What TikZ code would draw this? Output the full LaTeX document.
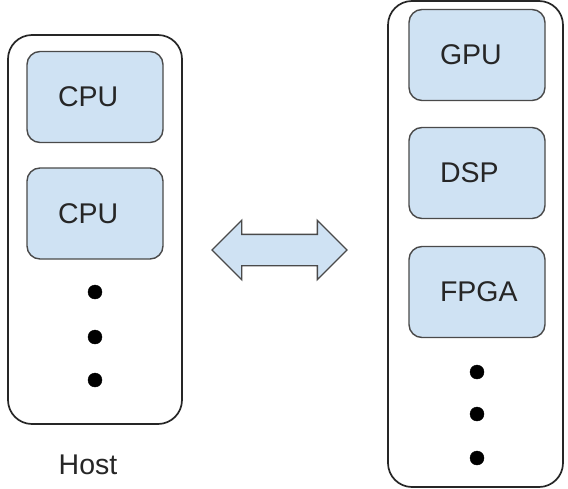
\documentclass[tikz,border=0pt]{standalone}
\usepackage{fontspec}
\setmainfont{Liberation Sans}
\usetikzlibrary{shapes.arrows}
\definecolor{boxblue}{HTML}{CFE2F3}
\definecolor{edgegray}{HTML}{4A4A4A}
\definecolor{inkgray}{HTML}{262626}
\begin{document}
\begin{tikzpicture}[x=1pt,y=-1pt,
  panel/.style={draw=black!85,line width=1.7pt,rounded corners=24pt,minimum width=174pt,inner sep=0},
  unit/.style={draw=edgegray,line width=1.4pt,fill=boxblue,rounded corners=13pt,minimum width=136pt,minimum height=91pt,inner sep=0,text width=74pt,align=left,text=inkgray,font=\fontsize{28.5}{33}\selectfont}]
\useasboundingbox (0,0) rectangle (568,488);
\node[panel,minimum height=389pt] (host) at (95,229.5) {};
\node[panel,minimum width=175pt,minimum height=486pt] (device) at (475.5,244) {};
\node[unit] (cpuA) at (95,97) {CPU};
\node[unit] (cpuB) at (95,213.5) {CPU};
\node[unit] (gpu) at (477,55) {GPU};
\node[unit] (dsp) at (477,173) {DSP};
\node[unit] (fpga) at (477,292) {FPGA};
\node[double arrow,draw=edgegray,fill=boxblue,line width=1.4pt,inner sep=0,inner ysep=15pt,minimum height=135pt,double arrow head extend=14pt] (link) at (279.5,250) {};
\draw [fill] (95,292) circle (7pt);
\draw [fill] (95,337) circle (7pt);
\draw [fill] (95,380) circle (7pt);
\draw [fill] (477,372) circle (7pt);
\draw [fill] (477,414) circle (7pt);
\draw [fill] (477,458) circle (7pt);
\node (hostname) at (88,465) [text=inkgray,font=\fontsize{28.5}{33}\selectfont] {Host};
\end{tikzpicture}
\end{document}
